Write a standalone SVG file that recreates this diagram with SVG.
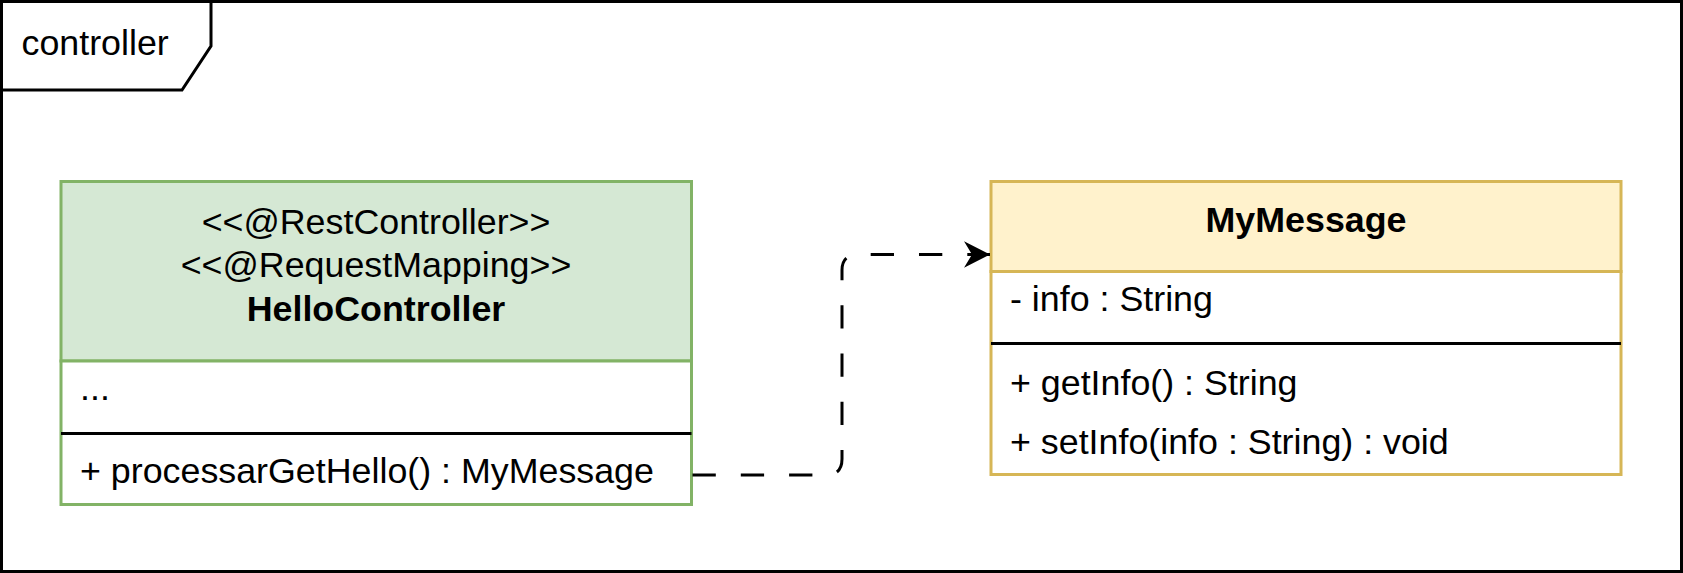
<svg xmlns="http://www.w3.org/2000/svg" width="1683" height="573" viewBox="0 0 1683 573">
<style>
text { font-family: "Liberation Sans", Arial, sans-serif; font-size: 35.8px; fill: #000000; }
.b { font-weight: bold; }
.c { text-anchor: middle; }
.ln { stroke: #000000; stroke-width: 3; fill: none; }
.conn { stroke: #000000; stroke-width: 3; fill: none; stroke-dasharray: 23.3 25; }
</style>
<defs>
<marker id="arrow" markerUnits="userSpaceOnUse" markerWidth="30" markerHeight="30" viewBox="0 0 30 30" refX="26" refY="15" orient="auto">
<path d="M0,1.7 L26,15 L0,28.3 L8,15 Z" fill="#000000" stroke="none"/>
</marker>
</defs>
<rect x="0" y="0" width="1683" height="573" fill="#ffffff"/>
<g id="frame">
<rect x="1.5" y="1.5" width="1680" height="570" fill="#ffffff" stroke="#000000" stroke-width="3"/>
<path class="ln" d="M1.5,90 L182,90 L211,46 L211,1.5"/>
<text x="21.5" y="55">controller</text>
</g>
<g id="HelloController">
<rect x="61" y="181.5" width="630.5" height="179.5" fill="#d5e8d4" stroke="#82b366" stroke-width="3"/>
<rect x="61" y="361" width="630.5" height="143.5" fill="#ffffff" stroke="#82b366" stroke-width="3"/>
<line class="ln" x1="61" y1="433.5" x2="691.5" y2="433.5"/>
<text class="c" x="376" y="234">&lt;&lt;@RestController&gt;&gt;</text>
<text class="c" x="376" y="276.5">&lt;&lt;@RequestMapping&gt;&gt;</text>
<text class="c b" x="376" y="320.5">HelloController</text>
<text x="80" y="400">...</text>
<text x="80" y="483">+ processarGetHello() : MyMessage</text>
</g>
<g id="MyMessage">
<rect x="991" y="181.5" width="630" height="90" fill="#fff2cc" stroke="#d6b656" stroke-width="3"/>
<rect x="991" y="271.5" width="630" height="203" fill="#ffffff" stroke="#d6b656" stroke-width="3"/>
<line class="ln" x1="991" y1="343.5" x2="1621" y2="343.5"/>
<text class="c b" x="1306" y="232">MyMessage</text>
<text x="1010" y="311">- info : String</text>
<text x="1010" y="395">+ getInfo() : String</text>
<text x="1010" y="454">+ setInfo(info : String) : void</text>
</g>
<g id="connectors">
<path class="conn" d="M692.5,475 L826,475 Q842,475 842,459 L842,270 Q842,254.5 858,254.5 L990,254.5" marker-end="url(#arrow)"/>
</g>
</svg>
